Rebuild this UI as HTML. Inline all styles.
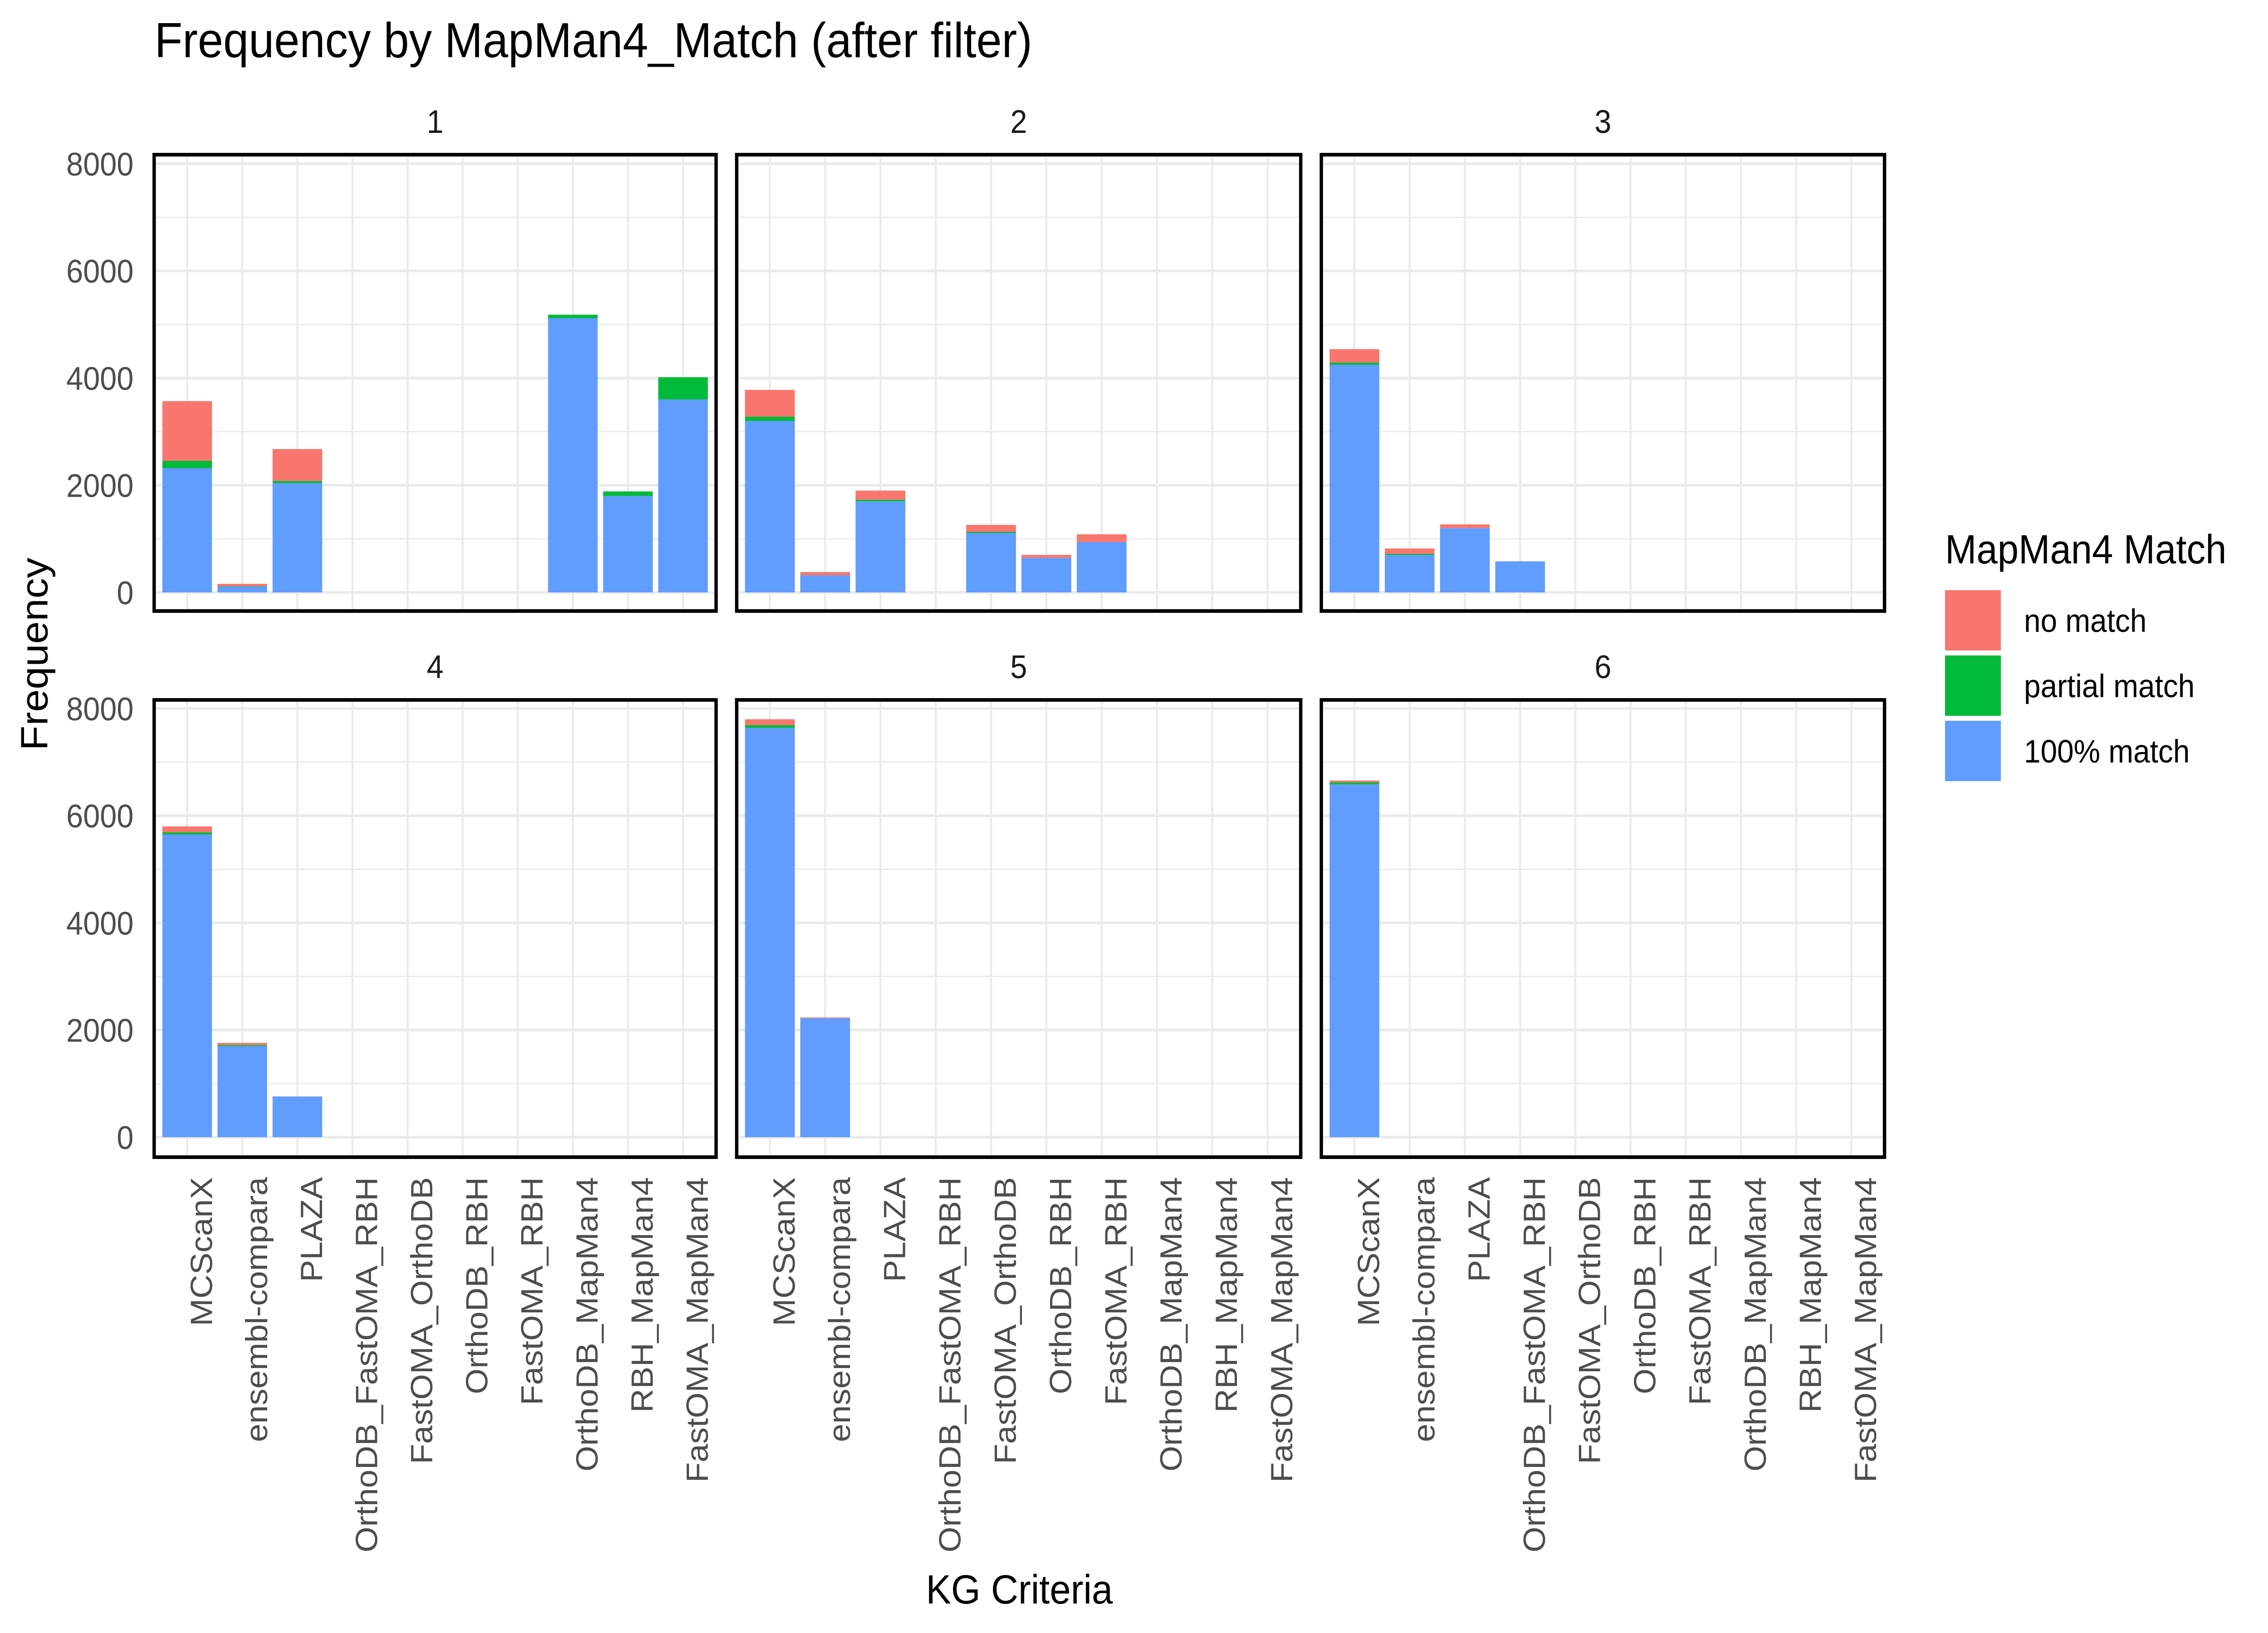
<!DOCTYPE html>
<html><head><meta charset="utf-8">
<style>html,body{margin:0;padding:0;background:#fff;width:100%;height:100%;overflow:hidden}svg{display:block;width:100vw;height:100vh}</style></head>
<body>
<svg id="chart" xmlns="http://www.w3.org/2000/svg" viewBox="0 0 5400 3600" preserveAspectRatio="none" font-family="'Liberation Sans', Arial, sans-serif">
<rect width="5400" height="3600" fill="#fff"/>
<text x="368" y="126" font-size="109" fill="#000">Frequency by MapMan4_Match (after filter)</text>
<text transform="translate(113,1442) rotate(-90)" text-anchor="middle" font-size="90" fill="#000">Frequency</text>
<text x="2427" y="3535" text-anchor="middle" font-size="90" fill="#000">KG Criteria</text>
<g id="panels"></g>
<g>
<text x="4631" y="1242" font-size="90" fill="#000">MapMan4 Match</text>
<rect x="4631" y="1301" width="133" height="133" fill="#F8766D"/>
<rect x="4631" y="1445" width="133" height="133" fill="#00BA38"/>
<rect x="4631" y="1589" width="133" height="133" fill="#619CFF"/>
<text x="4819" y="1393" font-size="71" fill="#000">no match</text>
<text x="4819" y="1537" font-size="71" fill="#000">partial match</text>
<text x="4819" y="1681" font-size="71" fill="#000">100% match</text>
</g>
</svg>
<script>
const categories = ["MCScanX","ensembl-compara","PLAZA","OrthoDB_FastOMA_RBH","FastOMA_OrthoDB","OrthoDB_RBH","FastOMA_RBH","OrthoDB_MapMan4","RBH_MapMan4","FastOMA_MapMan4"];
const panelLabels = ["1","2","3","4","5","6"];
const yTicks = [0,2000,4000,6000,8000];
const yMinor = [1000,3000,5000,7000];
const fullMatch = [
 [2320,110,2040,0,0,0,0,5118,1800,3602],
 [3200,320,1700,0,1110,645,940,0,0,0],
 [4250,700,1200,580,0,0,0,0,0,0],
 [5650,1700,760,0,0,0,0,0,0,0],
 [7640,2220,0,0,0,0,0,0,0,0],
 [6585,0,0,0,0,0,0,0,0,0]
];
const partialMatch = [
 [135,5,40,0,0,0,0,65,85,414],
 [80,0,30,0,20,0,0,0,0,0],
 [40,20,0,0,0,0,0,0,0,0],
 [40,20,0,0,0,0,0,0,0,0],
 [50,0,0,0,0,0,0,0,0,0],
 [35,0,0,0,0,0,0,0,0,0]
];
const noMatch = [
 [1115,45,595,0,0,0,0,0,0,0],
 [500,60,170,0,130,55,145,0,0,0],
 [250,100,70,0,0,0,0,0,0,0],
 [110,40,0,0,0,0,0,0,0,0],
 [110,15,0,0,0,0,0,0,0,0],
 [35,0,0,0,0,0,0,0,0,0]
];
const NS="http://www.w3.org/2000/svg";
const root=document.getElementById('panels');
const colX=[[367,1705],[1754,3097],[3146,4487]];
const rowY=[{top:341,bot:1347,y0:1306,y8:361},{top:1543,bot:2551,y0:2507,y8:1562}];
function mk(tag,attrs,parent){const e=document.createElementNS(NS,tag);for(const k in attrs)e.setAttribute(k,attrs[k]);parent.appendChild(e);return e;}
panelLabels.forEach((lab,p)=>{
  const c=colX[p%3], r=rowY[Math.floor(p/3)];
  const g=mk('g',{},root);
  
  
  const sp=(c[1]-c[0])/(categories.length-1+1.2);
  const xC=i=>c[0]+(0.6+i)*sp;
  const yS=v=>r.y0-(v/8000)*(r.y0-r.y8);
  yMinor.forEach(v=>{const l=mk('line',{x1:c[0],x2:c[1],y1:yS(v),y2:yS(v),stroke:'#EBEBEB','stroke-width':3},g);});
  yTicks.forEach(v=>{const l=mk('line',{x1:c[0],x2:c[1],y1:yS(v),y2:yS(v),stroke:'#EBEBEB','stroke-width':6},g);});
  categories.forEach((cat,i)=>{const l=mk('line',{x1:xC(i),x2:xC(i),y1:r.top,y2:r.bot,stroke:'#EBEBEB','stroke-width':5},g);});
  const bw=sp*0.9;
  categories.forEach((cat,i)=>{
    const segs=[[fullMatch[p][i],'#619CFF','full'],[partialMatch[p][i],'#00BA38','partial'],[noMatch[p][i],'#F8766D','none']];
    let base=0;
    segs.forEach(s=>{ if(s[0]>0){
      const rc=mk('rect',{x:xC(i)-bw/2,y:yS(base+s[0]),width:bw,height:yS(base)-yS(base+s[0]),fill:s[1]},g);
      
      
      base+=s[0];}});
  });
  const b=mk('rect',{x:c[0],y:r.top,width:c[1]-c[0],height:r.bot-r.top,fill:'none',stroke:'#000','stroke-width':8},g);
  
  
  const st=mk('text',{x:(c[0]+c[1])/2,y:r.top-48,'text-anchor':'middle','font-size':72,fill:'#1A1A1A'},g);
  st.textContent=lab;
  
  
  if(p%3===0){yTicks.forEach(v=>{const t=mk('text',{x:318,y:yS(v)+26,'text-anchor':'end','font-size':72,fill:'#4D4D4D'},g);t.textContent=String(v);});}
  if(p>=3){categories.forEach((cat,i)=>{const t=mk('text',{transform:'translate('+(xC(i)+59)+',2595) rotate(-90)','text-anchor':'end','font-size':73,fill:'#4D4D4D'},g);t.textContent=cat;});}
});
</script>
</body></html>
